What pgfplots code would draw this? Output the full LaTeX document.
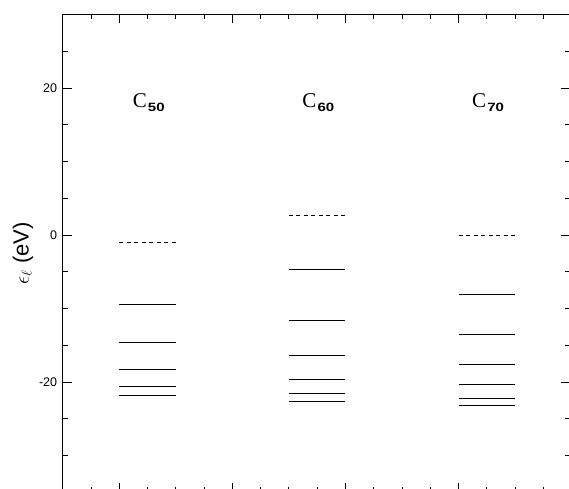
\documentclass[border=0pt]{standalone}
\usepackage{fontspec}
\setmainfont{Liberation Sans}
\newfontfamily\serifC{Liberation Serif}
\usepackage{pgfplots}
\pgfplotsset{compat=1.18}
\newcommand{\Clab}[1]{{\serifC\fontsize{21}{21}\selectfont C}\kern1.2pt\raisebox{-3.2pt}{\scalebox{1.25}[1]{\fontsize{12}{12}\selectfont\bfseries #1}}}
\begin{document}
\begin{tikzpicture}
\begin{axis}[
  x=113.1pt, y=7.35pt,
  xmin=0.5, xmax=4.99, ymin=-35, ymax=30,
  axis line style={line width=0.8pt},
  xtick={1,2,3,4}, xticklabels={},
  minor xtick={0.75,1.25,1.5,1.75,2.25,2.5,2.75,3.25,3.5,3.75,4.25,4.5,4.75},
  ytick={-20,0,20},
  minor ytick={-30,-25,-15,-10,-5,5,10,15,25},
  tick align=inside,
  major tick length=9pt, minor tick length=5pt,
  every tick/.style={black, line width=0.8pt},
  /pgf/number format/assume math mode=true,
  yticklabel style={font=\fontsize{12.5}{12.5}\selectfont, xshift=-2pt},
  ylabel={$\epsilon_\ell$ (eV)},
  ylabel style={font=\fontsize{22}{22}\selectfont, yshift=-1pt},
  clip=false,
]
% C50
\addplot[black, line width=0.9pt, dash pattern=on 4pt off 3.5pt] coordinates {(1.0,-0.95) (1.5,-0.95)};
\addplot[black, line width=0.9pt] coordinates {(1.0,-9.39) (1.5,-9.39)};
\addplot[black, line width=0.9pt] coordinates {(1.0,-14.69) (1.5,-14.69)};
\addplot[black, line width=0.9pt] coordinates {(1.0,-18.32) (1.5,-18.32)};
\addplot[black, line width=0.9pt] coordinates {(1.0,-20.59) (1.5,-20.59)};
\addplot[black, line width=0.9pt] coordinates {(1.0,-21.77) (1.5,-21.77)};
% C60
\addplot[black, line width=0.9pt, dash pattern=on 4pt off 3.5pt] coordinates {(2.5,2.72) (3.0,2.72)};
\addplot[black, line width=0.9pt] coordinates {(2.5,-4.65) (3.0,-4.65)};
\addplot[black, line width=0.9pt] coordinates {(2.5,-11.65) (3.0,-11.65)};
\addplot[black, line width=0.9pt] coordinates {(2.5,-16.33) (3.0,-16.33)};
\addplot[black, line width=0.9pt] coordinates {(2.5,-19.6) (3.0,-19.6)};
\addplot[black, line width=0.9pt] coordinates {(2.5,-21.6) (3.0,-21.6)};
\addplot[black, line width=0.9pt] coordinates {(2.5,-22.7) (3.0,-22.7)};
% C70
\addplot[black, line width=0.9pt, dash pattern=on 4pt off 3.5pt] coordinates {(4.0,-0.05) (4.5,-0.05)};
\addplot[black, line width=0.9pt] coordinates {(4.0,-8.07) (4.5,-8.07)};
\addplot[black, line width=0.9pt] coordinates {(4.0,-13.56) (4.5,-13.56)};
\addplot[black, line width=0.9pt] coordinates {(4.0,-17.55) (4.5,-17.55)};
\addplot[black, line width=0.9pt] coordinates {(4.0,-20.38) (4.5,-20.38)};
\addplot[black, line width=0.9pt] coordinates {(4.0,-22.27) (4.5,-22.27)};
\addplot[black, line width=0.9pt] coordinates {(4.0,-23.15) (4.5,-23.15)};
\node[anchor=base west, inner sep=0pt] at (axis cs:1.118,17.28) {\Clab{50}};
\node[anchor=base west, inner sep=0pt] at (axis cs:2.618,17.28) {\Clab{60}};
\node[anchor=base west, inner sep=0pt] at (axis cs:4.118,17.28) {\Clab{70}};
\coordinate (bbll) at (axis cs:-0.054,-34.56);
\coordinate (bbur) at (axis cs:4.977,31.97);
\end{axis}
\pgfresetboundingbox
\path[use as bounding box] (bbll) rectangle (bbur);
\end{tikzpicture}
\end{document}
